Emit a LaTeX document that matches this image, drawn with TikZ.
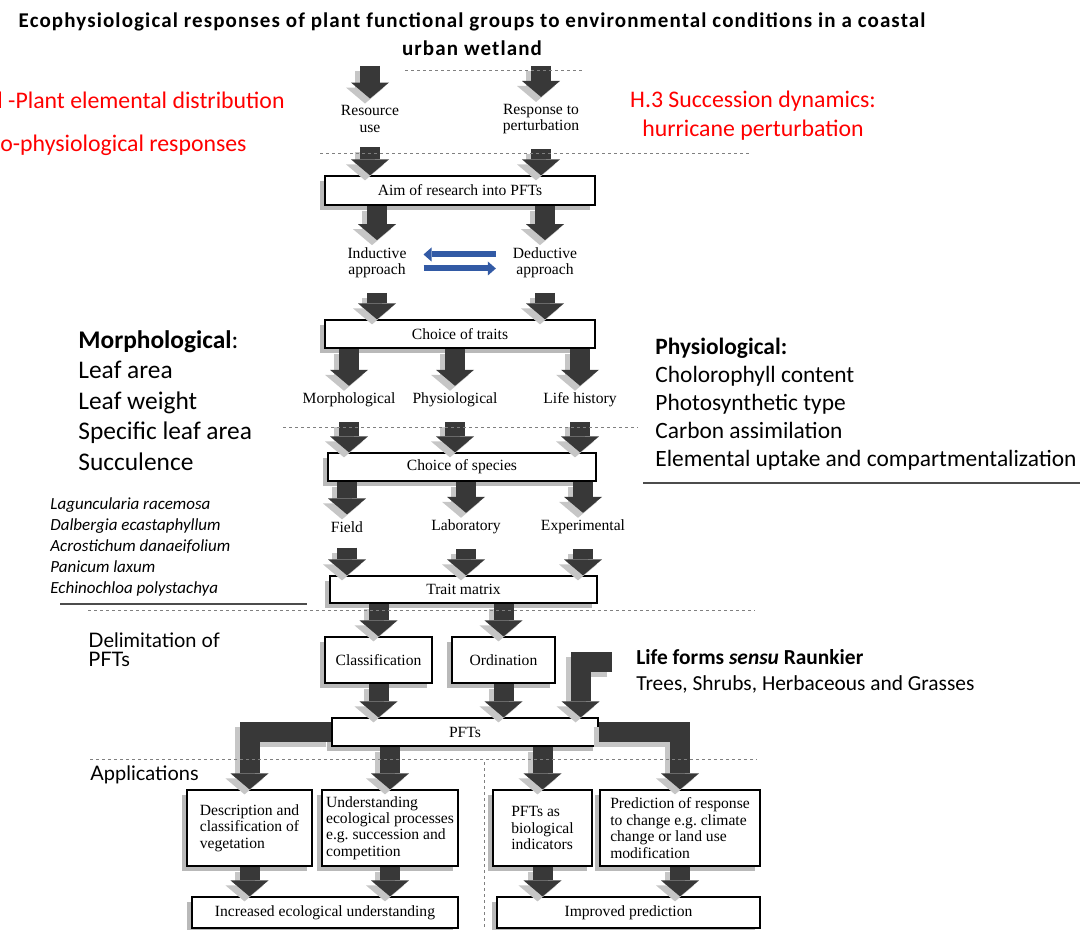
\documentclass[tikz,border=0pt]{standalone}
\usepackage{fontspec}
\setmainfont{Liberation Serif}
\newfontfamily\calfont{Carlito}
\newfontfamily\titlefont[LetterSpace=5.3]{Carlito}
\newfontfamily\gillfont{Lato}
\usetikzlibrary{arrows.meta,shadows}

\definecolor{arrblue}{RGB}{50,90,165}
\newcommand{\diag}{\fontsize{7.8}{8.2}\selectfont\hyphenpenalty=10000\relax}
\newcommand{\fatarrow}[2][]{\draw[fatshade,#1] #2; \draw[fat,#1] #2;}

\begin{document}
\begin{tikzpicture}[x=0.5pt, y=-0.5pt,
    diagbox/.style={draw, line width=0.6pt, fill=white, font=\diag, inner sep=2pt,
      drop shadow={shadow xshift=-2.5pt, shadow yshift=-2.5pt, fill=gray!55, opacity=1}},
    appbox/.style={diagbox, align=left, minimum height=38pt},
    lbl/.style={font=\diag, align=center},
    fat/.style={draw=black!78, line width=10pt, -{Triangle[length=8pt, width=19pt, line width=0pt]}},
    fatshade/.style={fat, draw=gray!45, transform canvas={xshift=-2.5pt, yshift=-2.5pt}},
    gap/.style={shorten <=4pt},
    bluearr/.style={draw=arrblue, line width=3pt, -{Triangle[length=4pt, width=7pt, line width=0pt]},
      shorten <=5pt, shorten >=5pt},
    sepline/.style={gray, line width=0.4pt, dash pattern=on 1.5pt off 1.5pt},
    rule/.style={black!70, line width=0.6pt},
    redtxt/.style={text=red, inner sep=0pt, font={\calfont\fontsize{11.9}{14.5}\selectfont}},
    block/.style={anchor=north west, align=left, inner sep=0pt}]

\useasboundingbox (0,0) rectangle (1080,930);
\clip (0,0) rectangle (1080,930);

\node[font={\titlefont\bfseries\fontsize{10.5}{14}\selectfont}, align=center] (title) at (472,34)
  {Ecophysiological responses of plant functional groups to environmental conditions in a coastal\\urban wetland};

\node[redtxt, anchor=east] (hone) at (285,100) {l -Plant elemental distribution};
\node[redtxt, anchor=west] (htwo) at (0,145) {o-physiological responses};
\node[redtxt, align=center] (hthree) at (753,116) {H.3 Succession dynamics:\\hurricane perturbation};

\node[block, font={\calfont\fontsize{12.7}{15.25}\selectfont}] (morph) at (78,330)
  {\textbf{Morphological}:\\Leaf area\\Leaf weight\\Specific leaf area\\Succulence};
\node[block, font={\calfont\fontsize{11.7}{14}\selectfont}] (physio) at (655,338)
  {\textbf{Physiological:}\\Cholorophyll content\\Photosynthetic type\\Carbon assimilation\\Elemental uptake and compartmentalization};
\node[block, font={\calfont\itshape\fontsize{8.5}{10.5}\selectfont}] (spp) at (50,497)
  {Laguncularia racemosa\\Dalbergia ecastaphyllum\\Acrostichum danaeifolium\\Panicum laxum\\Echinochloa polystachya};
\node[block, font={\calfont\fontsize{10.7}{13}\selectfont}] (life) at (636,649)
  {\textbf{Life forms \textit{sensu} Raunkier}\\Trees, Shrubs, Herbaceous and Grasses};
\node[block, font={\gillfont\fontsize{10}{9.5}\selectfont}] (delim) at (88,632) {Delimitation of\\PFTs};
\node[block, font={\gillfont\fontsize{10}{10}\selectfont}] (appl) at (90,765) {Applications};

\node[lbl] (resource) at (370,119) {Resource\\use};
\node[lbl] (response) at (541,119) {Response to\\perturbation};
\node[diagbox, minimum width=135pt, minimum height=14.5pt] (aim) at (460,190.5) {Aim of research into PFTs};
\node[lbl] (induct) at (377,262.5) {Inductive\\approach};
\node[lbl] (deduct) at (545,262.5) {Deductive\\approach};
\node[diagbox, minimum width=135pt, minimum height=14pt] (traits) at (460,334) {Choice of traits};
\node[lbl] (morphl) at (349,400) {Morphological};
\node[lbl] (physl) at (455,400) {Physiological};
\node[lbl] (lifel) at (580,400) {Life history};
\node[diagbox, minimum width=134pt, minimum height=14pt] (species) at (462,467) {Choice of species};
\node[lbl] (field) at (347,527) {Field};
\node[lbl] (lab) at (466,527) {Laboratory};
\node[lbl] (expt) at (583,527) {Experimental};
\node[diagbox, minimum width=133.5pt, minimum height=13.5pt] (matrix) at (463.5,589.5) {Trait matrix};
\node[diagbox, minimum width=53.5pt, minimum height=23pt] (class) at (378.5,660) {Classification};
\node[diagbox, minimum width=51.5pt, minimum height=23pt] (ord) at (503.5,660) {Ordination};
\node[diagbox, minimum width=133pt, minimum height=14pt] (pfts) at (465,732) {PFTs};
\node[appbox, minimum width=62.5pt] (desc) at (249.5,828) {Description and\\classification of\\vegetation};
\node[appbox, minimum width=68pt] (und) at (390,828) {Understanding\\ecological processes\\e.g.\ succession and\\competition};
\node[appbox, minimum width=49.5pt] (bioind) at (542.5,828) {PFTs as\\biological\\indicators};
\node[appbox, minimum width=80pt] (pred) at (680,828) {Prediction of response\\to change e.g.\ climate\\change or land use\\modification};
\node[diagbox, minimum width=133pt, minimum height=15.5pt] (incr) at (325,912.5) {Increased ecological understanding};
\node[diagbox, minimum width=131.5pt, minimum height=15.5pt] (impr) at (628.5,912.5) {Improved prediction};

\coordinate (topl) at (370,66);
\coordinate (topr) at (541,66);
\coordinate (lfstart) at (612,662);

\fatarrow{(topl) -- (resource.north)}
\fatarrow{(topr) -- (response.north)}
\fatarrow[gap]{(resource.south) -- (resource.south |- aim.north)}
\fatarrow[gap]{(response.south) -- (response.south |- aim.north)}
\fatarrow{(induct.north |- aim.south) -- (induct.north)}
\fatarrow{(deduct.north |- aim.south) -- (deduct.north)}
\fatarrow[gap]{(induct.south) -- (induct.south |- traits.north)}
\fatarrow[gap]{(deduct.south) -- (deduct.south |- traits.north)}
\fatarrow{(morphl.north |- traits.south) -- (morphl.north)}
\fatarrow{(physl.north |- traits.south) -- (physl.north)}
\fatarrow{(lifel.north |- traits.south) -- (lifel.north)}
\fatarrow[gap]{(morphl.south) -- (morphl.south |- species.north)}
\fatarrow[gap]{(physl.south) -- (physl.south |- species.north)}
\fatarrow[gap]{(lifel.south) -- (lifel.south |- species.north)}
\fatarrow{(field.north |- species.south) -- (field.north)}
\fatarrow{(lab.north |- species.south) -- (lab.north)}
\fatarrow{(expt.north |- species.south) -- (expt.north)}
\fatarrow[gap]{(field.south) -- (field.south |- matrix.north)}
\fatarrow[gap]{(lab.south) -- (lab.south |- matrix.north)}
\fatarrow[gap]{(expt.south) -- (expt.south |- matrix.north)}
\fatarrow{(class.north |- matrix.south) -- (class.north)}
\fatarrow{(ord.north |- matrix.south) -- (ord.north)}
\fatarrow{(class.south) -- (class.south |- pfts.north)}
\fatarrow{(ord.south) -- (ord.south |- pfts.north)}
\fatarrow{(lfstart) -| ([xshift=-9pt]pfts.north east)}
\fatarrow{(pfts.west) -| (desc.north)}
\fatarrow{(und.north |- pfts.south) -- (und.north)}
\fatarrow{(bioind.north |- pfts.south) -- (bioind.north)}
\fatarrow{(pfts.east) -| (pred.north)}
\fatarrow{(desc.south) -- (desc.south |- incr.north)}
\fatarrow{(und.south) -- (und.south |- incr.north)}
\fatarrow{(bioind.south) -- (bioind.south |- impr.north)}
\fatarrow{(pred.south) -- (pred.south |- impr.north)}

\draw[bluearr] ([yshift=4pt]deduct.west) -- ([yshift=4pt]induct.east);
\draw[bluearr] ([yshift=-3pt]induct.east) -- ([yshift=-3pt]deduct.west);

\draw[sepline] (405,70) -- (584,70);
\draw[sepline] (320,153) -- (750,153);
\draw[sepline] (283,427) -- (638,427);
\draw[sepline] (88,610) -- (755,610);
\draw[sepline] (90,759) -- (757,759);
\draw[sepline] (484,762) -- (484,928);
\draw[rule] (60,604) -- (307,604);
\draw[rule] (643,483) -- (1080,483);
\end{tikzpicture}
\end{document}
